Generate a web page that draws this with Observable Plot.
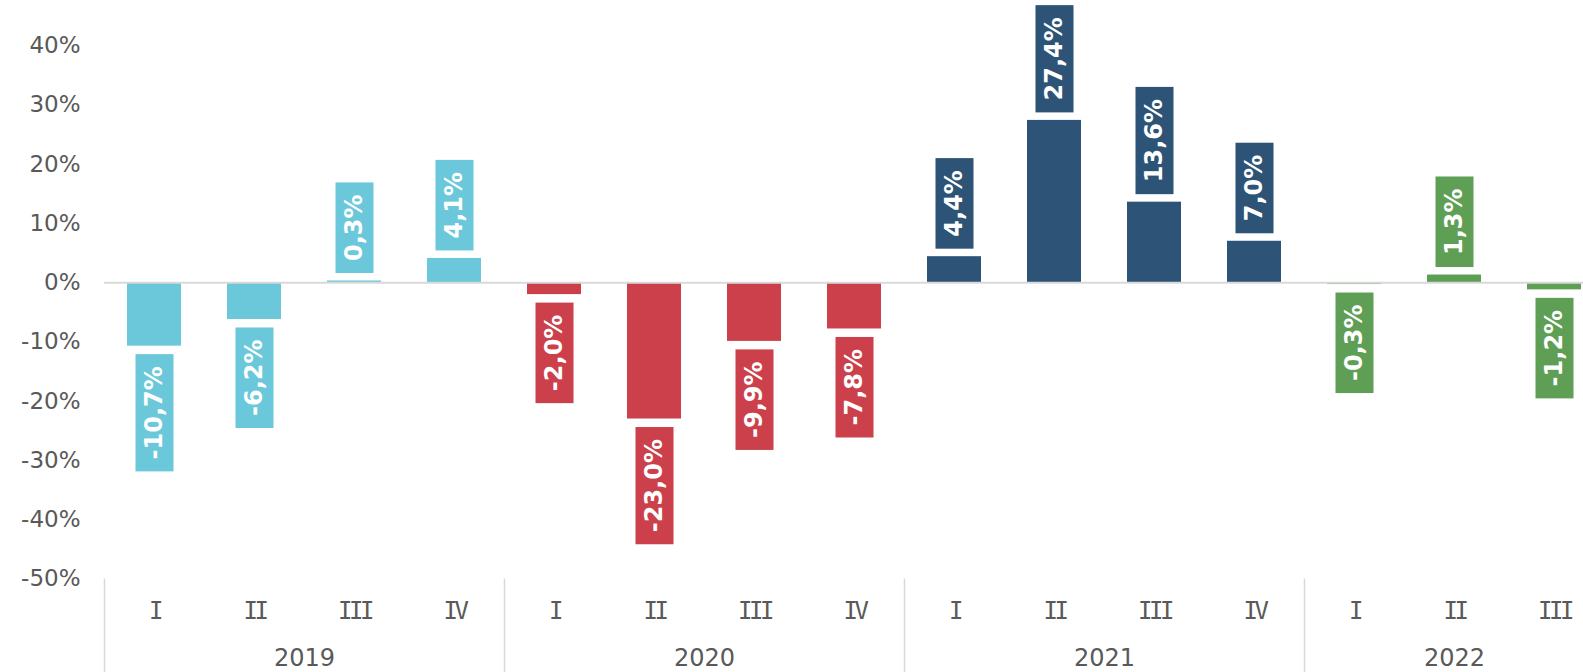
<!DOCTYPE html>
<html><head><meta charset="utf-8">
<script src="https://cdn.jsdelivr.net/npm/d3@7"></script>
<script src="https://cdn.jsdelivr.net/npm/@observablehq/plot@0.6"></script>
<style>body{margin:0;background:#fff} #chart svg{overflow:visible;display:block}</style>
</head><body><div id="chart"></div>
<script>
// ---- data ----
const years = ["2019", "2020", "2021", "2022"];
const quarters2019 = ["I", "II", "III", "IV"];
const quarters2020 = ["I", "II", "III", "IV"];
const quarters2021 = ["I", "II", "III", "IV"];
const quarters2022 = ["I", "II", "III"];
const values2019 = [-10.7, -6.2, 0.3, 4.1];
const values2020 = [-2.0, -23.0, -9.9, -7.8];
const values2021 = [4.4, 27.4, 13.6, 7.0];
const values2022 = [-0.3, 1.3, -1.2];
const yearColors = ["#6AC8DA", "#CB404A", "#2D5477", "#5E9E55"];
const yTicks = [-50, -40, -30, -20, -10, 0, 10, 20, 30, 40];

const quarterLists = [quarters2019, quarters2020, quarters2021, quarters2022];
const valueLists = [values2019, values2020, values2021, values2022];

const rows = years.flatMap((yr, i) => quarterLists[i].map((q, j) => ({
  key: yr + "-" + q, year: yr, q, value: valueLists[i][j], color: yearColors[i]
})));
const keys = rows.map(d => d.key);
const fmt = v => (v < 0 ? "-" : "") + Math.abs(v).toFixed(1).replace(".", ",") + "%";

const yearStarts = years.map((yr, i) => ({key: yr + "-" + quarterLists[i][0]}));
const yearMids = years.map((yr, i) => {
  const n = quarterLists[i].length;
  return {year: yr, key: yr + "-" + quarterLists[i][Math.floor((n - 1) / 2)], even: n % 2 === 0};
});

const posRows = rows.filter(d => d.value >= 0);
const negRows = rows.filter(d => d.value < 0);

const gap = 8, pad = 12, thick = 38, step = 100;
const grey = "#595959";

const plot = Plot.plot({
  width: 1583, height: 672,
  marginLeft: 104, marginRight: 0, marginTop: 0, marginBottom: 93.5,
  style: {fontFamily: "'DejaVu Sans', Verdana, sans-serif", background: "white"},
  x: {domain: keys, range: [103.5, 1603.5], paddingInner: 0.46, paddingOuter: 0.23, axis: null},
  y: {domain: [-50, 40], range: [578.5, 45.25]},
  color: {type: "identity"},
  marks: [
    Plot.axisY({ticks: yTicks, tickSize: 0, tickPadding: 24, tickFormat: d => d + "%", label: null, fontSize: 23, fill: grey}),
    Plot.barY(rows, {x: "key", y: "value", fill: "color"}),
    Plot.ruleY([0], {stroke: "#D9D9D9", strokeWidth: 2}),
    Plot.ruleX(yearStarts, {x: "key", dx: -step / 2, y1: -50, y2: -50, insetBottom: -95, stroke: "#D9D9D9", strokeWidth: 1.5}),
    Plot.text(rows, {x: "key", text: "q", frameAnchor: "bottom", lineAnchor: "middle", dy: 32, fill: grey, fontSize: 24,
      fontFamily: "'DejaVu Sans Mono', monospace"}),
    Plot.text(yearMids.filter(d => d.even), {x: "key", text: "year", frameAnchor: "bottom", lineAnchor: "middle", dy: 79.5, dx: step / 2, fill: grey, fontSize: 24}),
    Plot.text(yearMids.filter(d => !d.even), {x: "key", text: "year", frameAnchor: "bottom", lineAnchor: "middle", dy: 79.5, fill: grey, fontSize: 24}),
    Plot.text(posRows, {x: "key", y: "value", text: d => fmt(d.value), rotate: -90, textAnchor: "start",
      dy: -(gap + pad), fill: "white", fontWeight: "bold", fontSize: 24}),
    Plot.text(negRows, {x: "key", y: "value", text: d => fmt(d.value), rotate: -90, textAnchor: "end",
      dy: gap + pad, fill: "white", fontWeight: "bold", fontSize: 24})
  ]
});
document.getElementById("chart").append(plot);

// tighter spacing for the roman quarter labels
plot.querySelectorAll("text").forEach(t => {
  if (/^(I|II|III|IV)$/.test(t.textContent)) t.setAttribute("letter-spacing", "-3.5");
});

// label boxes behind rotated value labels
const labelGroups = Array.from(plot.querySelectorAll("g[fill='white']"));
[posRows, negRows].forEach((data, gi) => {
  const g = labelGroups[gi];
  if (!g) return;
  Array.from(g.querySelectorAll("text")).forEach((t, i) => {
    const bb = t.getBBox();
    const r = document.createElementNS("http://www.w3.org/2000/svg", "rect");
    r.setAttribute("x", bb.x - pad);
    r.setAttribute("y", -thick / 2);
    r.setAttribute("width", bb.width + 2 * pad);
    r.setAttribute("height", thick);
    r.setAttribute("transform", t.getAttribute("transform"));
    r.setAttribute("fill", data[i].color);
    g.insertBefore(r, t);
  });
});
</script>
</body></html>
